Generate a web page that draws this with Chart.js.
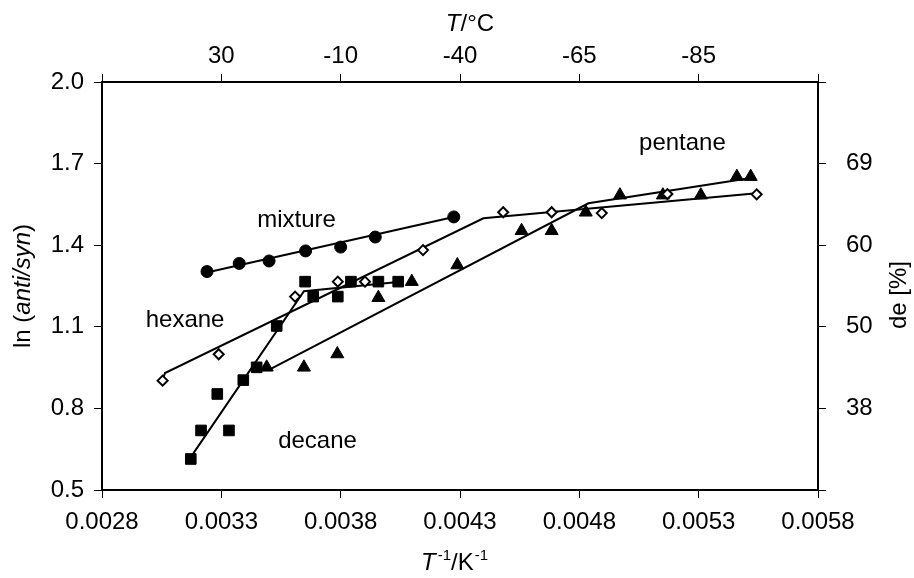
<!DOCTYPE html>
<html lang="en">
<head>
<meta charset="UTF-8" />
<title>ln(anti/syn) vs 1/T</title>
<script src="https://cdn.jsdelivr.net/npm/chart.js"></script>
<style>
  body { margin: 0; background: #fff; }
  canvas { display: block; }
</style>
</head>
<body>
<canvas id="chart" width="914" height="578"></canvas>
<script>
// measured points: x = 1/T (K^-1), y = ln(anti/syn)
const mixtureX = [0.00324, 0.003375, 0.0035, 0.003653, 0.0038, 0.003945, 0.004274];
const mixtureY = [1.303, 1.333, 1.342, 1.379, 1.393, 1.43, 1.504];
const hexaneX = [0.003054, 0.003289, 0.003609, 0.003788, 0.003902, 0.004145, 0.004481, 0.004684, 0.004894, 0.005169, 0.005543];
const hexaneY = [0.902, 0.999, 1.211, 1.266, 1.266, 1.382, 1.521, 1.521, 1.518, 1.588, 1.587];
const decaneX = [0.003172, 0.003215, 0.003332, 0.003283, 0.003392, 0.003448, 0.003532, 0.003651, 0.003685, 0.003788, 0.003843, 0.003958, 0.004041];
const decaneY = [0.614, 0.719, 0.719, 0.853, 0.904, 0.951, 1.103, 1.266, 1.211, 1.211, 1.266, 1.266, 1.266];
const pentaneX = [0.00349, 0.003646, 0.003786, 0.003958, 0.004098, 0.004289, 0.004558, 0.004684, 0.004827, 0.00497, 0.00515, 0.005309, 0.00546, 0.005518];
const pentaneY = [0.951, 0.951, 1.0, 1.207, 1.266, 1.327, 1.453, 1.453, 1.521, 1.584, 1.584, 1.584, 1.652, 1.652];

// fitted lines (break points)
const mixtureFitX = [0.003239, 0.004274];
const mixtureFitY = [1.3, 1.504];
const hexaneFitX = [0.003054, 0.003064, 0.004398, 0.005543];
const hexaneFitY = [0.905, 0.93, 1.499, 1.591];
const decaneFitX = [0.003172, 0.003646, 0.004041];
const decaneFitY = [0.621, 1.231, 1.265];
const pentaneFitX = [0.003497, 0.004838, 0.005519];
const pentaneFitY = [0.941, 1.554, 1.647];

// secondary axis labels
const topTickLabels = ["", "30", "-10", "-40", "-65", "-85", ""];
const rightTickLabels = ["", "38", "50", "60", "69", ""];
const seriesNames = ["mixture", "hexane", "decane", "pentane"];

const black = "#000";
const FONT = "'Liberation Sans', Arial, sans-serif";
Chart.defaults.font.family = FONT;
Chart.defaults.font.size = 24;
Chart.defaults.color = black;

const pts = (xs, ys) => xs.map((x, i) => ({ x: x, y: ys[i] }));

function markers(label, xs, ys, style, radius, fill) {
  return {
    label: label,
    data: pts(xs, ys),
    showLine: false,
    pointStyle: style,
    pointRadius: radius,
    pointBackgroundColor: fill,
    pointBorderColor: black,
    pointBorderWidth: fill === "#fff" ? 2 : 1,
    order: 0,
  };
}
function fitLine(xs, ys) {
  return {
    data: pts(xs, ys),
    showLine: true,
    borderColor: black,
    borderWidth: 2,
    pointRadius: 0,
    order: 1,
  };
}

// series names and axis titles (mixed italic) drawn on the canvas
function drawRuns(ctx, runs, x, y, angle, align) {
  ctx.save();
  ctx.translate(x, y);
  ctx.rotate(angle);
  let total = 0;
  runs.forEach((r) => {
    ctx.font = (r.it ? "italic " : "") + (r.sup ? 15 : 24) + "px " + FONT;
    r.w = ctx.measureText(r.t).width;
    total += r.w + (r.gap || 0);
  });
  let cx = align === "left" ? 0 : -total / 2;
  runs.forEach((r) => {
    cx += r.gap || 0;
    ctx.font = (r.it ? "italic " : "") + (r.sup ? 15 : 24) + "px " + FONT;
    ctx.fillText(r.t, cx, r.sup ? -10 : 0);
    cx += r.w;
  });
  ctx.restore();
}

const textPlugin = {
  id: "texts",
  afterDraw(chart, args, opts) {
    const ctx = chart.ctx;
    const sx = chart.scales.x;
    const sy = chart.scales.y;
    ctx.save();
    ctx.fillStyle = black;
    ctx.textBaseline = "alphabetic";
    ctx.font = "24px " + FONT;
    ctx.textAlign = "center";
    seriesNames.forEach((name, i) => {
      const a = opts.anchors[i];
      ctx.fillText(name, sx.getPixelForValue(a[0]), sy.getPixelForValue(a[1]));
    });
    ctx.textAlign = "left";
    drawRuns(ctx, [{ t: "T", it: true }, { t: "/°C" }], 470, 31, 0);
    drawRuns(ctx, [
      { t: "T", it: true },
      { t: "-1", sup: true, gap: 2 },
      { t: "/K" },
      { t: "-1", sup: true, gap: 1 },
    ], 421, 570, 0, "left");
    drawRuns(ctx, [{ t: "ln (" }, { t: "anti/syn", it: true }, { t: ")" }], 30, 286, -Math.PI / 2);
    drawRuns(ctx, [{ t: "de [%]" }], 906, 295, -Math.PI / 2);
    ctx.restore();
  },
};

const axisGrid = { drawOnChartArea: false, tickLength: 8, color: black, lineWidth: 1 };
const axisBorder = { color: black, width: 2 };

new Chart(document.getElementById("chart"), {
  type: "scatter",
  data: {
    datasets: [
      fitLine(mixtureFitX, mixtureFitY),
      fitLine(hexaneFitX, hexaneFitY),
      fitLine(decaneFitX, decaneFitY),
      fitLine(pentaneFitX, pentaneFitY),
      markers("mixture", mixtureX, mixtureY, "circle", 6, black),
      markers("hexane", hexaneX, hexaneY, "rectRot", 5, "#fff"),
      markers("decane", decaneX, decaneY, "rect", 7.5, black),
      markers("pentane", pentaneX, pentaneY, "triangle", 7.5, black),
    ],
  },
  options: {
    responsive: false,
    animation: false,
    layout: { padding: 0 },
    plugins: {
      legend: { display: false },
      tooltip: { enabled: false },
      texts: {
        anchors: [
          [0.003615, 1.467],
          [0.003148, 1.099],
          [0.003703, 0.654],
          [0.005232, 1.75],
        ],
      },
    },
    scales: {
      x: {
        type: "linear",
        position: "bottom",
        min: 0.0028,
        max: 0.0058,
        ticks: { stepSize: 0.0005, callback: (v) => v.toFixed(4), padding: 10, maxRotation: 0, autoSkip: false },
        grid: axisGrid,
        border: axisBorder,
        afterFit: (s) => { s.height = 88; },
      },
      xTop: {
        type: "linear",
        position: "top",
        min: 0.0028,
        max: 0.0058,
        ticks: { stepSize: 0.0005, callback: (v, i) => topTickLabels[i], padding: 3, maxRotation: 0, autoSkip: false },
        grid: axisGrid,
        border: axisBorder,
        afterFit: (s) => { s.height = 82; },
      },
      y: {
        type: "linear",
        position: "left",
        min: 0.5,
        max: 2.0,
        ticks: { stepSize: 0.3, callback: (v) => v.toFixed(1), padding: 10 },
        grid: axisGrid,
        border: axisBorder,
        afterFit: (s) => { s.width = 102; },
      },
      yRight: {
        type: "linear",
        position: "right",
        min: 0.5,
        max: 2.0,
        ticks: { stepSize: 0.3, callback: (v, i) => rightTickLabels[i], padding: 20 },
        grid: axisGrid,
        border: axisBorder,
        afterFit: (s) => { s.width = 96; },
      },
    },
  },
  plugins: [textPlugin],
});
</script>
</body>
</html>
